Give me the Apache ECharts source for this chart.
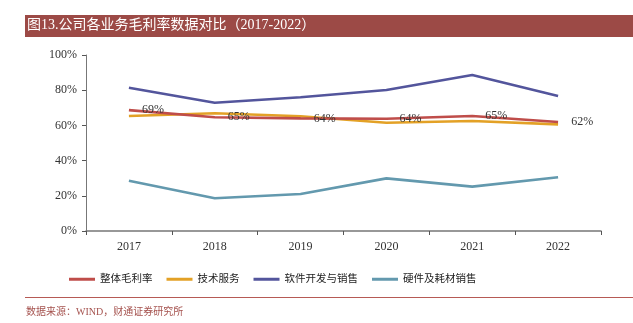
<!DOCTYPE html>
<html><head><meta charset="utf-8">
<script src="https://cdn.jsdelivr.net/npm/echarts@6/dist/echarts.min.js"></script>
<style>html,body{margin:0;padding:0;background:#fff}#c{width:633px;height:323px}</style>
</head><body><div id="c"></div>
<script>
var categories = ['2017','2018','2019','2020','2021','2022'];
var seriesNames = ['整体毛利率','技术服务','软件开发与销售','硬件及耗材销售'];
var overall = [68.7, 64.6, 64.0, 63.8, 65.3, 61.9];
var techService = [65.3, 66.9, 65.2, 61.5, 62.5, 60.6];
var software = [81.4, 72.9, 76.0, 80.1, 88.6, 76.7];
var hardware = [28.6, 18.6, 21.0, 29.9, 25.2, 30.5];
var overallLabels = ['69%','65%','64%','64%','65%','62%'];
var colors = ['#BF4D4A','#E3A126','#53559C','#6399AE'];
var serif = "'Liberation Serif','DejaVu Serif','Noto Sans CJK SC',serif";

var chart = echarts.init(document.getElementById('c'));
var dataSets = [overall, techService, software, hardware];
var series = dataSets.map(function(d, i){
  var s = {
    name: seriesNames[i], type: 'line', data: d, symbol: 'none',
    lineStyle: {width: 2.6, color: colors[i]}, itemStyle: {color: colors[i]}, z: 10 - i
  };
  if (i === 0) {
    s.symbol = 'circle';
    s.symbolSize = 0.1;
    s.showSymbol = true;
    s.label = {show: true, position: 'right', distance: 13, color: '#333', fontFamily: serif, fontSize: 12,
      formatter: function(p){ return overallLabels[p.dataIndex]; }};
    s.z = 12;
  }
  return s;
});
chart.setOption({
  animation: false,
  textStyle: {fontFamily: serif},
  graphic: [
    {type: 'rect', shape: {x: 25, y: 15, width: 608, height: 22}, style: {fill: '#9C4A46'}},
    {type: 'text', left: 27, top: 18, style: {text: '图13.公司各业务毛利率数据对比（2017-2022）', fill: '#fff', font: "14px 'Liberation Serif','Noto Sans CJK SC',serif"}},
    {type: 'rect', shape: {x: 25, y: 297, width: 608, height: 1}, style: {fill: '#B65A55'}},
    {type: 'text', left: 26, top: 307, style: {text: '数据来源：WIND，财通证券研究所', fill: '#A5524E', font: "10px 'Liberation Serif','Noto Sans CJK SC',serif"}}
  ],
  grid: {left: 86, right: 32, top: 55, bottom: 92},
  legend: {
    left: 64, top: 269, itemWidth: 26, itemHeight: 3, itemGap: 14, icon: 'rect',
    textStyle: {fontFamily: serif, fontSize: 10.5, color: '#222'},
    data: seriesNames
  },
  xAxis: {
    type: 'category', data: categories, boundaryGap: true,
    axisLine: {lineStyle: {color: '#777', width: 1.5}},
    axisTick: {show: true, inside: false, length: 4, lineStyle: {color: '#555'}},
    axisLabel: {color: '#333', fontSize: 12, fontFamily: serif, margin: 10}
  },
  yAxis: {
    type: 'value', min: 0, max: 100, interval: 20,
    axisLine: {show: true, lineStyle: {color: '#777', width: 1}},
    axisTick: {show: true, length: 4, lineStyle: {color: '#555'}},
    splitLine: {show: false},
    axisLabel: {color: '#333', fontSize: 12, fontFamily: serif, margin: 9, formatter: '{value}%'}
  },
  series: series
});
</script></body></html>
